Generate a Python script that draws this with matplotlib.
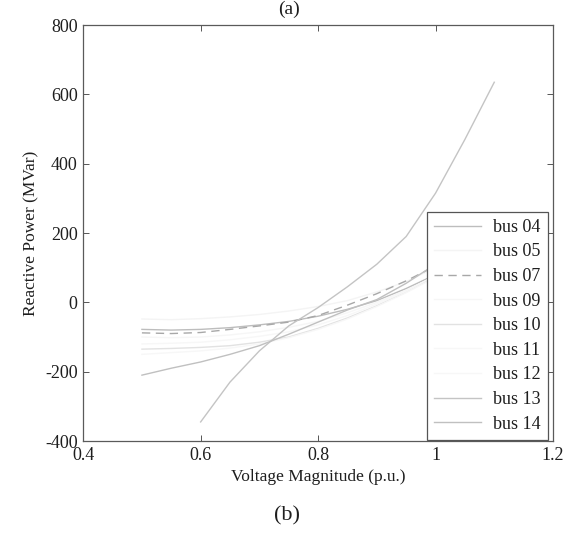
import numpy as np
import matplotlib
matplotlib.use("Agg")
import matplotlib.pyplot as plt

# Voltage magnitude grid (p.u.) and reactive power per bus (MVar)
voltage = [0.5, 0.55, 0.6, 0.65, 0.7, 0.75, 0.8, 0.85, 0.9, 0.95, 1.0, 1.05, 1.1]
nan = np.nan
bus04 = [-78, -80, -78, -73, -65, -55, -40, -20, 5, 40, 80, 125, nan]
bus05 = [-48, -50, -47, -42, -35, -25, -12, 5, 30, 60, 100, 145, nan]
bus07 = [-88, -90, -87, -78, -68, -57, -38, -8, 25, 62, 105, 150, nan]
bus09 = [-100, -102, -100, -94, -85, -72, -55, -30, 0, 35, 75, 120, nan]
bus10 = [-135, -133, -130, -125, -115, -100, -75, -45, -10, 30, 75, 125, nan]
bus11 = [-120, -118, -115, -108, -98, -85, -65, -38, -5, 32, 78, 122, nan]
bus12 = [-150, -145, -140, -132, -120, -102, -78, -48, -12, 28, 72, 118, nan]
bus13 = [nan, nan, -345, -230, -140, -68, -15, 45, 110, 190, 315, 470, 635]
bus14 = [-210, -190, -172, -150, -125, -92, -57, -22, 8, 55, 110, 165, nan]

series = [
    ("bus 04", bus04, "#bdbdbd", "-"),
    ("bus 05", bus05, "#f4f4f4", "-"),
    ("bus 07", bus07, "#a8a8a8", (0, (6, 4))),
    ("bus 09", bus09, "#f6f6f6", "-"),
    ("bus 10", bus10, "#e2e2e2", "-"),
    ("bus 11", bus11, "#f7f7f7", "-"),
    ("bus 12", bus12, "#f7f7f7", "-"),
    ("bus 13", bus13, "#c4c4c4", "-"),
    ("bus 14", bus14, "#c0c0c0", "-"),
]

xticks = [0.4, 0.6, 0.8, 1.0, 1.2]
xtick_labels = ["0.4", "0.6", "0.8", "1", "1.2"]
yticks = [-400, -200, 0, 200, 400, 600, 800]

plt.rcParams["font.family"] = ["Liberation Serif", "DejaVu Serif"]
plt.rcParams["axes.unicode_minus"] = False
text_color = "#1e1e1e"

fig = plt.figure(figsize=(5.66, 5.33), dpi=100)
ax = fig.add_axes([0.147, 0.1726, 0.83, 0.7804])

for label, q, color, ls in series:
    ax.plot(voltage, q, color=color, linestyle=ls, linewidth=1.0, label=label)

ax.set_xlim(0.4, 1.2)
ax.set_ylim(-400, 800)
ax.set_xticks(xticks)
ax.set_xticklabels(xtick_labels)
ax.set_yticks(yticks)
ax.tick_params(direction="in", length=4, width=0.7, top=True, right=True,
               labelsize=13, labelcolor=text_color, color="#555555", pad=4)
for spine in ax.spines.values():
    spine.set_color("#5a5a5a")
    spine.set_linewidth(0.9)

ax.set_xlabel("Voltage Magnitude (p.u.)", fontsize=12.5, color=text_color, labelpad=4)
ax.set_ylabel("Reactive Power (MVar)", fontsize=12.5, color=text_color, labelpad=4)

leg = ax.legend(loc="lower right", bbox_to_anchor=(0.99, 0.003), borderaxespad=0,
                fontsize=13, frameon=True, fancybox=False, framealpha=1,
                handlelength=2.6, handletextpad=0.7, labelspacing=0.42,
                borderpad=0.4)
leg.get_frame().set_edgecolor("#555555")
leg.get_frame().set_linewidth(0.9)
for t in leg.get_texts():
    t.set_color(text_color)

fig.text(0.51, 0.998, "(a)", fontsize=14, ha="center", va="top", color=text_color)
fig.text(0.507, 0.033, "(b)", fontsize=16, ha="center", va="center", color=text_color)

fig.savefig("out.png", dpi=100)
